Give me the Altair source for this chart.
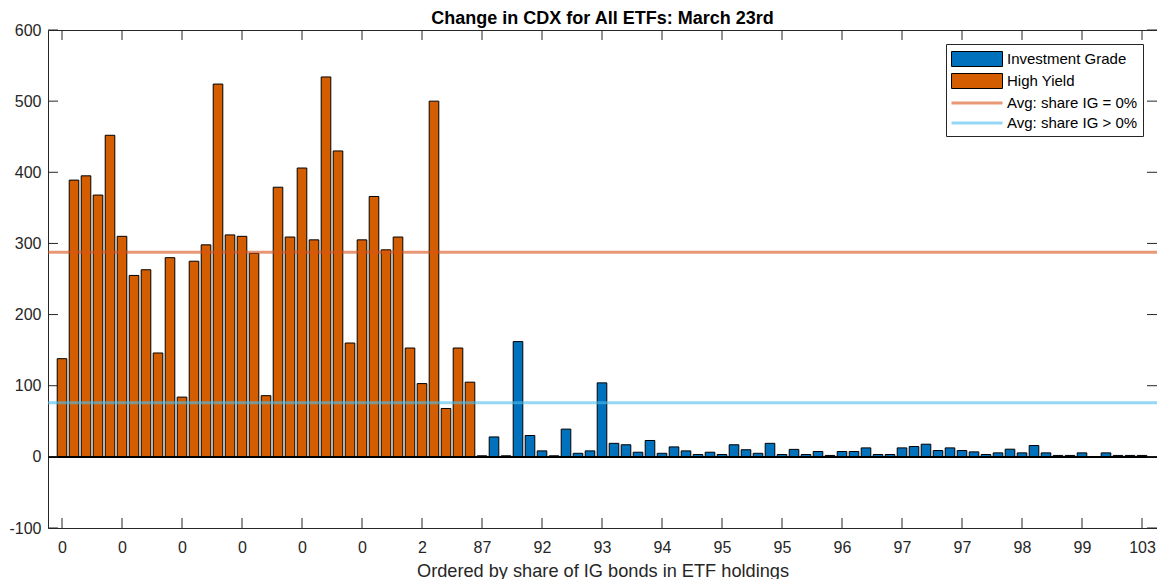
import altair as alt
import pandas as pd

# ---------------- data ----------------
hy_values = [138, 389, 395, 368, 452, 310, 255, 263, 146, 280, 84, 275, 298, 524,
             312, 310, 286, 86, 379, 309, 406, 305, 534, 430, 160, 305, 366, 291,
             309, 153, 103, 500, 68, 153, 105]
ig_values = [1.5, 28, 1.5, 162, 30, 8.4, 1.5, 39, 5, 8.4, 104, 19, 17, 6.5, 23, 5,
             14, 8.4, 3.3, 6.5, 3.3, 17, 10, 5, 19, 3.3, 10.5, 3.3, 7.5, 2, 7.5,
             7.5, 12.6, 3.3, 3.3, 12.6, 14.5, 17.8, 8.9, 12.6, 8.9, 7, 3.3, 5.6,
             10.8, 5.6, 15.9, 5.6, 2, 2, 5.6, 0, 5.6, 2, 2, 2]
tick_labels = ["0", "0", "0", "0", "0", "0", "2", "87", "92", "93", "94", "95",
               "95", "96", "97", "97", "98", "99", "103"]
tick_step = 5
y_ticks = [-100, 0, 100, 200, 300, 400, 500, 600]
series_names = ["Investment Grade", "High Yield",
                "Avg: share IG = 0%", "Avg: share IG > 0%"]
avg_values = [287.5, 76]  # share IG = 0%, share IG > 0%

# ---------------- tables ----------------
values = hy_values + ig_values
bars = pd.DataFrame({
    "idx": list(range(1, len(values) + 1)),
    "value": values,
    "series": ["High Yield"] * len(hy_values) + ["Investment Grade"] * len(ig_values),
})
bars["x0"] = bars["idx"] - 0.4
bars["x1"] = bars["idx"] + 0.4
avgs = pd.DataFrame({"series": series_names[2:], "avg": avg_values})
tick_pos = [1 + tick_step * i for i in range(len(tick_labels))]
xt = pd.DataFrame({"pos": tick_pos})
yt = pd.DataFrame({"val": y_ticks})
leg = pd.DataFrame({"series": series_names})

W, H = 1109, 498
TL = 10
FONT = "Liberation Sans"
AX = "#262626"
TICK_FS = 16
LAB_FS = 18.2

xscale = alt.Scale(domain=[-0.167, 92.25], nice=False, zero=False)
yscale = alt.Scale(domain=[-100, 600], nice=False, zero=False)

fill_scale = alt.Scale(domain=series_names,
                       range=["#0072BD", "#D45D00",
                              "rgba(217,83,25,0.6)", "rgba(77,190,238,0.6)"])
stroke_scale = alt.Scale(domain=series_names,
                         range=["#000000", "#000000", "transparent", "transparent"])
shape_scale = alt.Scale(domain=series_names,
                        range=["M-1,-0.79H4.37V0.79H-1Z", "M-1,-0.79H4.37V0.79H-1Z",
                               "M-1,-0.16H4.37V0.16H-1Z", "M-1,-0.16H4.37V0.16H-1Z"])

label_expr = "[" + ",".join("'%s'" % t for t in tick_labels) + \
    "][round((datum.value - 1) / %d)]" % tick_step

xaxis = alt.Axis(values=tick_pos, labelExpr=label_expr, grid=False, ticks=False,
                 domain=False, labelPadding=11, labelFontSize=TICK_FS, labelFont=FONT,
                 labelColor=AX, title="Ordered by share of IG bonds in ETF holdings",
                 titleFont=FONT, titleFontSize=LAB_FS, titleFontWeight="normal",
                 titleColor=AX, titlePadding=7, labelFlush=False)
yaxis = alt.Axis(values=y_ticks, grid=False, ticks=False, domain=False,
                 labelPadding=7, labelFontSize=TICK_FS, labelFont=FONT, labelColor=AX,
                 labelExpr="replace(datum.label, '\u2212', '-')", title=None)

leg_title = alt.Legend(title=None)

legend_layer = alt.Chart(leg).mark_point(filled=True, opacity=1).encode(
    fill=alt.Fill("series:N", scale=fill_scale, legend=leg_title),
    stroke=alt.Stroke("series:N", scale=stroke_scale, legend=leg_title),
    shape=alt.Shape("series:N", scale=shape_scale, legend=leg_title),
).transform_filter("false")

bar_layer = alt.Chart(bars).mark_bar(strokeWidth=1).encode(
    x=alt.X("x0:Q", scale=xscale, axis=xaxis),
    x2="x1:Q",
    y=alt.Y("value:Q", scale=yscale, axis=yaxis),
    y2=alt.datum(0),
    fill=alt.Fill("series:N", scale=fill_scale, legend=leg_title),
    stroke=alt.Stroke("series:N", scale=stroke_scale, legend=leg_title),
)

base_line = alt.Chart(bars).mark_rule(color="#000000", strokeWidth=1).encode(
    y=alt.datum(0)
)

avg_layer = alt.Chart(avgs).mark_tick(
    orient="horizontal", thickness=3, size=W, opacity=1
).encode(
    y=alt.Y("avg:Q", scale=yscale),
    fill=alt.Fill("series:N", scale=fill_scale, legend=leg_title),
)

tick_style = dict(color=AX, strokeWidth=1)
x_bot = alt.Chart(xt).mark_rule(**tick_style).encode(
    x=alt.X("pos:Q", scale=xscale), y=alt.value(H), y2=alt.value(H - TL))
x_top = alt.Chart(xt).mark_rule(**tick_style).encode(
    x=alt.X("pos:Q", scale=xscale), y=alt.value(0), y2=alt.value(TL))
y_left = alt.Chart(yt).mark_rule(**tick_style).encode(
    y=alt.Y("val:Q", scale=yscale), x=alt.value(0), x2=alt.value(TL))
y_right = alt.Chart(yt).mark_rule(**tick_style).encode(
    y=alt.Y("val:Q", scale=yscale), x=alt.value(W - TL), x2=alt.value(W))

chart = alt.layer(
    bar_layer, base_line, avg_layer, x_bot, x_top, y_left, y_right, legend_layer
).properties(
    width=W, height=H,
    title=alt.TitleParams("Change in CDX for All ETFs: March 23rd", font=FONT,
                          fontSize=18, fontWeight="bold", color="#000000",
                          anchor="middle", offset=-6),
    autosize=alt.AutoSizeParams(type="none"),
    padding={"left": 40, "top": 22, "right": 0, "bottom": 51},
).configure_view(
    stroke=AX, strokeWidth=1
).configure_legend(
    orient="top-right", offset=14, strokeColor=AX, fillColor="white",
    padding=5, symbolSize=361, symbolStrokeWidth=1, labelFont=FONT,
    labelFontSize=15, labelColor="#000000", labelOffset=36, rowPadding=2,
    cornerRadius=0, labelLimit=300,
)

chart.save("out.html", embed_options={"renderer": "svg", "actions": False})
